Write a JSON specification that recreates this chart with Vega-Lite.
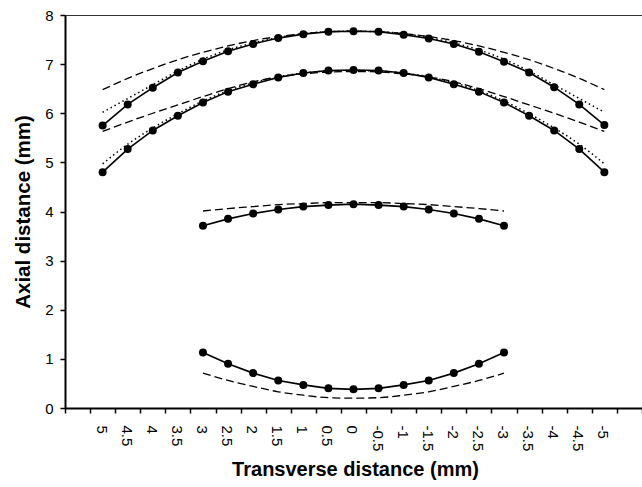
{
  "$schema": "https://vega.github.io/schema/vega-lite/v6.json",
  "autosize": "none",
  "width": 580,
  "height": 393,
  "padding": {"left": 65, "top": 15, "right": 0, "bottom": 79},
  "background": "white",
  "config": {
    "view": {"stroke": "#333", "strokeWidth": 1},
    "font": "Liberation Sans"
  },
  "data": {"values": [
    {"c":"A","t":"meas","x":5,"y":5.75},{"c":"A","t":"meas","x":4.5,"y":6.18},{"c":"A","t":"meas","x":4,"y":6.52},{"c":"A","t":"meas","x":3.5,"y":6.83},{"c":"A","t":"meas","x":3,"y":7.06},{"c":"A","t":"meas","x":2.5,"y":7.26},{"c":"A","t":"meas","x":2,"y":7.41},{"c":"A","t":"meas","x":1.5,"y":7.53},{"c":"A","t":"meas","x":1,"y":7.61},{"c":"A","t":"meas","x":0.5,"y":7.66},{"c":"A","t":"meas","x":0,"y":7.67},{"c":"A","t":"meas","x":-0.5,"y":7.66},{"c":"A","t":"meas","x":-1,"y":7.6},{"c":"A","t":"meas","x":-1.5,"y":7.52},{"c":"A","t":"meas","x":-2,"y":7.41},{"c":"A","t":"meas","x":-2.5,"y":7.25},{"c":"A","t":"meas","x":-3,"y":7.05},{"c":"A","t":"meas","x":-3.5,"y":6.83},{"c":"A","t":"meas","x":-4,"y":6.53},{"c":"A","t":"meas","x":-4.5,"y":6.18},{"c":"A","t":"meas","x":-5,"y":5.76},
    {"c":"A","t":"dash","x":5,"y":6.48},{"c":"A","t":"dash","x":4.5,"y":6.71},{"c":"A","t":"dash","x":4,"y":6.91},{"c":"A","t":"dash","x":3.5,"y":7.09},{"c":"A","t":"dash","x":3,"y":7.24},{"c":"A","t":"dash","x":2.5,"y":7.37},{"c":"A","t":"dash","x":2,"y":7.48},{"c":"A","t":"dash","x":1.5,"y":7.56},{"c":"A","t":"dash","x":1,"y":7.62},{"c":"A","t":"dash","x":0.5,"y":7.66},{"c":"A","t":"dash","x":0,"y":7.67},{"c":"A","t":"dash","x":-0.5,"y":7.66},{"c":"A","t":"dash","x":-1,"y":7.62},{"c":"A","t":"dash","x":-1.5,"y":7.56},{"c":"A","t":"dash","x":-2,"y":7.48},{"c":"A","t":"dash","x":-2.5,"y":7.37},{"c":"A","t":"dash","x":-3,"y":7.24},{"c":"A","t":"dash","x":-3.5,"y":7.09},{"c":"A","t":"dash","x":-4,"y":6.91},{"c":"A","t":"dash","x":-4.5,"y":6.71},{"c":"A","t":"dash","x":-5,"y":6.48},
    {"c":"A","t":"dot","x":5,"y":6.02},{"c":"A","t":"dot","x":4.5,"y":6.3},{"c":"A","t":"dot","x":4,"y":6.58},{"c":"A","t":"dot","x":3.5,"y":6.86},{"c":"A","t":"dot","x":3,"y":7.1},{"c":"A","t":"dot","x":2.5,"y":7.29},{"c":"A","t":"dot","x":2,"y":7.43},{"c":"A","t":"dot","x":1.5,"y":7.54},{"c":"A","t":"dot","x":1,"y":7.62},{"c":"A","t":"dot","x":0.5,"y":7.66},{"c":"A","t":"dot","x":0,"y":7.67},{"c":"A","t":"dot","x":-0.5,"y":7.66},{"c":"A","t":"dot","x":-1,"y":7.62},{"c":"A","t":"dot","x":-1.5,"y":7.54},{"c":"A","t":"dot","x":-2,"y":7.43},{"c":"A","t":"dot","x":-2.5,"y":7.29},{"c":"A","t":"dot","x":-3,"y":7.1},{"c":"A","t":"dot","x":-3.5,"y":6.86},{"c":"A","t":"dot","x":-4,"y":6.58},{"c":"A","t":"dot","x":-4.5,"y":6.3},{"c":"A","t":"dot","x":-5,"y":6.02},
    {"c":"B","t":"meas","x":5,"y":4.8},{"c":"B","t":"meas","x":4.5,"y":5.27},{"c":"B","t":"meas","x":4,"y":5.65},{"c":"B","t":"meas","x":3.5,"y":5.95},{"c":"B","t":"meas","x":3,"y":6.22},{"c":"B","t":"meas","x":2.5,"y":6.44},{"c":"B","t":"meas","x":2,"y":6.59},{"c":"B","t":"meas","x":1.5,"y":6.73},{"c":"B","t":"meas","x":1,"y":6.82},{"c":"B","t":"meas","x":0.5,"y":6.87},{"c":"B","t":"meas","x":0,"y":6.88},{"c":"B","t":"meas","x":-0.5,"y":6.87},{"c":"B","t":"meas","x":-1,"y":6.82},{"c":"B","t":"meas","x":-1.5,"y":6.73},{"c":"B","t":"meas","x":-2,"y":6.59},{"c":"B","t":"meas","x":-2.5,"y":6.44},{"c":"B","t":"meas","x":-3,"y":6.22},{"c":"B","t":"meas","x":-3.5,"y":5.95},{"c":"B","t":"meas","x":-4,"y":5.65},{"c":"B","t":"meas","x":-4.5,"y":5.27},{"c":"B","t":"meas","x":-5,"y":4.8},
    {"c":"B","t":"dash","x":5,"y":5.63},{"c":"B","t":"dash","x":4.5,"y":5.82},{"c":"B","t":"dash","x":4,"y":6.0},{"c":"B","t":"dash","x":3.5,"y":6.17},{"c":"B","t":"dash","x":3,"y":6.34},{"c":"B","t":"dash","x":2.5,"y":6.5},{"c":"B","t":"dash","x":2,"y":6.64},{"c":"B","t":"dash","x":1.5,"y":6.74},{"c":"B","t":"dash","x":1,"y":6.8},{"c":"B","t":"dash","x":0.5,"y":6.84},{"c":"B","t":"dash","x":0,"y":6.85},{"c":"B","t":"dash","x":-0.5,"y":6.84},{"c":"B","t":"dash","x":-1,"y":6.8},{"c":"B","t":"dash","x":-1.5,"y":6.74},{"c":"B","t":"dash","x":-2,"y":6.64},{"c":"B","t":"dash","x":-2.5,"y":6.5},{"c":"B","t":"dash","x":-3,"y":6.34},{"c":"B","t":"dash","x":-3.5,"y":6.17},{"c":"B","t":"dash","x":-4,"y":6.0},{"c":"B","t":"dash","x":-4.5,"y":5.82},{"c":"B","t":"dash","x":-5,"y":5.63},
    {"c":"B","t":"dot","x":5,"y":4.97},{"c":"B","t":"dot","x":4.5,"y":5.37},{"c":"B","t":"dot","x":4,"y":5.7},{"c":"B","t":"dot","x":3.5,"y":5.99},{"c":"B","t":"dot","x":3,"y":6.25},{"c":"B","t":"dot","x":2.5,"y":6.46},{"c":"B","t":"dot","x":2,"y":6.62},{"c":"B","t":"dot","x":1.5,"y":6.74},{"c":"B","t":"dot","x":1,"y":6.82},{"c":"B","t":"dot","x":0.5,"y":6.86},{"c":"B","t":"dot","x":0,"y":6.87},{"c":"B","t":"dot","x":-0.5,"y":6.86},{"c":"B","t":"dot","x":-1,"y":6.82},{"c":"B","t":"dot","x":-1.5,"y":6.74},{"c":"B","t":"dot","x":-2,"y":6.62},{"c":"B","t":"dot","x":-2.5,"y":6.46},{"c":"B","t":"dot","x":-3,"y":6.25},{"c":"B","t":"dot","x":-3.5,"y":5.99},{"c":"B","t":"dot","x":-4,"y":5.7},{"c":"B","t":"dot","x":-4.5,"y":5.37},{"c":"B","t":"dot","x":-5,"y":4.97},
    {"c":"C","t":"meas","x":3,"y":3.71},{"c":"C","t":"meas","x":2.5,"y":3.85},{"c":"C","t":"meas","x":2,"y":3.96},{"c":"C","t":"meas","x":1.5,"y":4.04},{"c":"C","t":"meas","x":1,"y":4.1},{"c":"C","t":"meas","x":0.5,"y":4.13},{"c":"C","t":"meas","x":0,"y":4.15},{"c":"C","t":"meas","x":-0.5,"y":4.13},{"c":"C","t":"meas","x":-1,"y":4.1},{"c":"C","t":"meas","x":-1.5,"y":4.04},{"c":"C","t":"meas","x":-2,"y":3.96},{"c":"C","t":"meas","x":-2.5,"y":3.85},{"c":"C","t":"meas","x":-3,"y":3.71},
    {"c":"C","t":"dash","x":3,"y":4.01},{"c":"C","t":"dash","x":2.5,"y":4.06},{"c":"C","t":"dash","x":2,"y":4.1},{"c":"C","t":"dash","x":1.5,"y":4.14},{"c":"C","t":"dash","x":1,"y":4.16},{"c":"C","t":"dash","x":0.5,"y":4.18},{"c":"C","t":"dash","x":0,"y":4.18},{"c":"C","t":"dash","x":-0.5,"y":4.18},{"c":"C","t":"dash","x":-1,"y":4.16},{"c":"C","t":"dash","x":-1.5,"y":4.14},{"c":"C","t":"dash","x":-2,"y":4.1},{"c":"C","t":"dash","x":-2.5,"y":4.06},{"c":"C","t":"dash","x":-3,"y":4.01},
    {"c":"D","t":"meas","x":3,"y":1.13},{"c":"D","t":"meas","x":2.5,"y":0.9},{"c":"D","t":"meas","x":2,"y":0.71},{"c":"D","t":"meas","x":1.5,"y":0.56},{"c":"D","t":"meas","x":1,"y":0.47},{"c":"D","t":"meas","x":0.5,"y":0.4},{"c":"D","t":"meas","x":0,"y":0.38},{"c":"D","t":"meas","x":-0.5,"y":0.4},{"c":"D","t":"meas","x":-1,"y":0.47},{"c":"D","t":"meas","x":-1.5,"y":0.56},{"c":"D","t":"meas","x":-2,"y":0.71},{"c":"D","t":"meas","x":-2.5,"y":0.9},{"c":"D","t":"meas","x":-3,"y":1.13},
    {"c":"D","t":"dash","x":3,"y":0.71},{"c":"D","t":"dash","x":2.5,"y":0.56},{"c":"D","t":"dash","x":2,"y":0.44},{"c":"D","t":"dash","x":1.5,"y":0.33},{"c":"D","t":"dash","x":1,"y":0.26},{"c":"D","t":"dash","x":0.5,"y":0.21},{"c":"D","t":"dash","x":0,"y":0.2},{"c":"D","t":"dash","x":-0.5,"y":0.21},{"c":"D","t":"dash","x":-1,"y":0.26},{"c":"D","t":"dash","x":-1.5,"y":0.33},{"c":"D","t":"dash","x":-2,"y":0.44},{"c":"D","t":"dash","x":-2.5,"y":0.56},{"c":"D","t":"dash","x":-3,"y":0.71}
  ]},
  "encoding": {
    "x": {
      "field": "x", "type": "quantitative",
      "scale": {"domain": [5.75, -5.81], "nice": false, "zero": false},
      "axis": {
        "title": "Transverse distance (mm)",
        "values": [5.75,5.25,4.75,4.25,3.75,3.25,2.75,2.25,1.75,1.25,0.75,0.25,-0.25,-0.75,-1.25,-1.75,-2.25,-2.75,-3.25,-3.75,-4.25,-4.75,-5.25,-5.75],
        "labelExpr": "(datum.value > 5.5 || datum.value < -5) ? '' : '' + (datum.value - 0.25)",
        "labelAngle": 90,
        "labelOffset": 11,
        "labelPadding": 12,
        "labelOverlap": false,
        "labelFlush": false,
        "labelBound": false,
        "labelFontSize": 15,
        "labelColor": "black",
        "labelFont": "Liberation Sans",
        "tickSize": 5,
        "tickWidth": 1.5,
        "tickColor": "black",
        "domainColor": "black",
        "domainWidth": 2,
        "grid": false,
        "titleFontSize": 20,
        "titleFontWeight": "bold",
        "titleColor": "black",
        "titlePadding": 9,
        "titleFont": "Liberation Sans"
      }
    },
    "y": {
      "field": "y", "type": "quantitative",
      "scale": {"domain": [0, 8], "nice": false},
      "axis": {
        "title": "Axial distance (mm)",
        "values": [0,1,2,3,4,5,6,7,8],
        "labelFontSize": 15,
        "labelColor": "black",
        "labelFont": "Liberation Sans",
        "labelPadding": 7,
        "tickSize": 5,
        "tickWidth": 1.5,
        "tickColor": "black",
        "domainColor": "black",
        "domainWidth": 2,
        "grid": false,
        "titleFontSize": 20.5,
        "titleFontWeight": "bold",
        "titleColor": "black",
        "titlePadding": 11,
        "titleFont": "Liberation Sans"
      }
    },
    "detail": {"field": "c", "type": "nominal"}
  },
  "layer": [
    {
      "transform": [{"filter": "datum.t == 'dash'"}],
      "mark": {"type": "line", "color": "black", "strokeWidth": 1.3, "strokeDash": [8, 4], "interpolate": "monotone"}
    },
    {
      "transform": [{"filter": "datum.t == 'dot'"}],
      "mark": {"type": "line", "color": "black", "strokeWidth": 1.5, "strokeDash": [1.5, 3], "interpolate": "monotone"}
    },
    {
      "transform": [{"filter": "datum.t == 'meas'"}],
      "mark": {"type": "line", "color": "black", "strokeWidth": 1.6}
    },
    {
      "transform": [{"filter": "datum.t == 'meas'"}],
      "mark": {"type": "circle", "color": "black", "opacity": 1, "size": 64}
    }
  ]
}
